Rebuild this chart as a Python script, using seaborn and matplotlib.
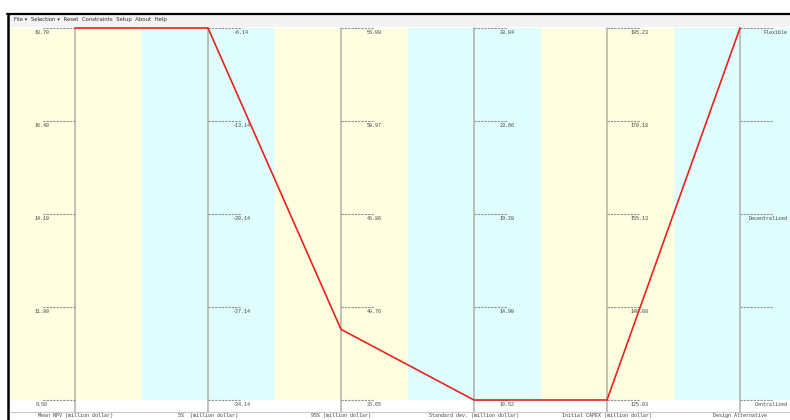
import numpy as np
import pandas as pd
import matplotlib
matplotlib.use("Agg")
import matplotlib.pyplot as plt
import seaborn as sns

# axis names and ranges
dims = ["Mean NPV (million dollar)", "5%  (million dollar)", "95% (million dollar)",
        "Standard dev. (million dollar)", "Initial CAPEX (million dollar)", "Design Alternative"]
dim_min = [9.50, -34.14, 35.65, 10.52, 125.03, 0]
dim_max = [18.70, -6.14, 56.08, 28.04, 185.23, 2]
design_labels = ["Centralized", "", "Decentralized", "", "Flexible"]

# the one selected design (red polyline)
line_vals = [18.70, -6.14, 39.53, 10.52, 125.03, 2]

band_colors = ["#fefee0", "#dffdfd"]
axis_color = "#b0b0a8"
text_color = "#404040"

sns.set_style("white")
plt.rcParams["font.family"] = ["DejaVu Sans"]

W, H = 790, 420
fig = plt.figure(figsize=(W / 100, H / 100), dpi=100)

# pixel layout of the plot area
x_left, x_first, step = 8, 75, 133
y_top, y_bot = 28, 400
ax = fig.add_axes([x_left / W, (H - y_bot) / H, (W - x_left) / W, (y_bot - y_top) / H])
ax.set_xlim((x_left - x_first) / step, (W - x_first) / step)
ax.set_ylim(0, 1)
ax.axis("off")

n = len(dims)
# background bands
for i in range(n):
    ax.axvspan(i - 0.5, i + 0.5, color=band_colors[i % 2], lw=0, zorder=0)

# axes, ticks and tick labels
tick_len = 33 / step
y_ext = -(412 - y_bot) / (y_bot - y_top)
mono = ["Liberation Mono", "DejaVu Sans Mono"]
for i in range(n):
    ax.plot([i, i], [y_ext, 1], color=axis_color, lw=1.1, zorder=2, clip_on=False)
    side = -1 if i == 0 else 1
    for k in range(5):
        fr = k / 4
        ax.plot([i, i + side * tick_len], [fr, fr], color="#909090", lw=0.8,
                ls=(0, (2, 1)), zorder=2, clip_on=False)
        if i == n - 1:
            lab = design_labels[k]
            ax.text(i + 48 / step, fr - 0.006, lab, ha="right", va="top",
                    fontsize=3.6, family=mono, color=text_color, clip_on=False)
        else:
            lab = "%.2f" % (dim_min[i] + fr * (dim_max[i] - dim_min[i]))
            ax.text(i + side * tick_len, fr - 0.006, lab, ha="center", va="top",
                    fontsize=3.6, family=mono, color=text_color, clip_on=False)

# polyline through seaborn, scaled per axis
norm = [(v - lo) / (hi - lo) for v, lo, hi in zip(line_vals, dim_min, dim_max)]
df = pd.DataFrame({"axis": np.arange(n), "value": norm})
sns.lineplot(data=df, x="axis", y="value", ax=ax, color="#e8231f", lw=1.2,
             zorder=5, clip_on=False)
ax.set_xlabel("")
ax.set_ylabel("")

# bottom rule and axis titles
fig.add_artist(plt.Line2D([x_left / W, 1], [(H - 412) / H] * 2, color="#c8c8c8", lw=0.8))
for i, name in enumerate(dims):
    fig.text((x_first + i * step) / W, (H - 416) / H, name, ha="center", va="center",
             fontsize=3.6, family=mono, color=text_color)

# menu bar and frame
fig.patches.append(plt.Rectangle((x_left / W, (H - 27) / H), 1, 13 / H,
                                 transform=fig.transFigure, color="#f3f3f3", lw=0))
fig.text(14 / W, (H - 19) / H, "File \u25be  Selection \u25be  Reset  Constraints  Setup  About  Help",
         ha="left", va="center", fontsize=3.9, color="#303030")
fig.add_artist(plt.Line2D([7 / W, 1], [(H - 14) / H] * 2, color="black", lw=1.6))
fig.add_artist(plt.Line2D([8 / W] * 2, [0, (H - 14) / H], color="black", lw=1.8))

fig.savefig("out.png", dpi=100)
